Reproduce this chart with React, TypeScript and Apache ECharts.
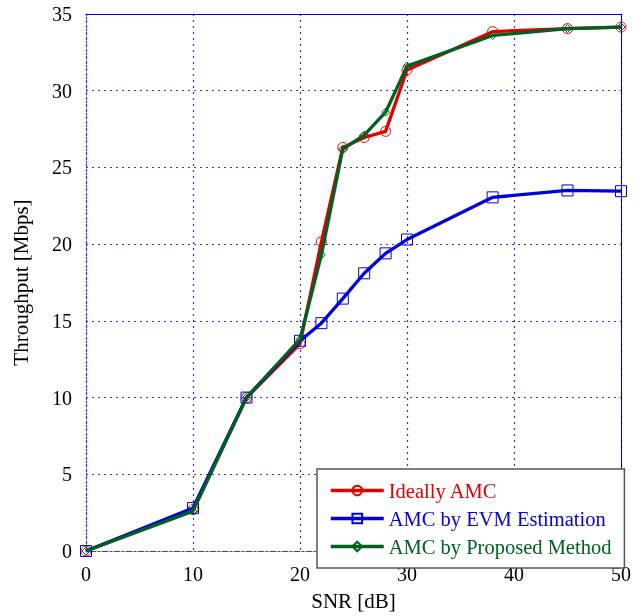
import React, { useEffect, useRef } from "react";
import * as echarts from "echarts";

const snr = [0, 10, 15, 20, 22, 24, 26, 28, 30, 38, 45, 50];
const ideal = [0, 2.7, 10.0, 13.5, 20.15, 26.3, 26.95, 27.35, 31.35, 33.85, 34.05, 34.15];
const evm = [0, 2.8, 10.0, 13.7, 14.85, 16.45, 18.1, 19.4, 20.3, 23.05, 23.5, 23.45];
const proposed = [0, 2.6, 10.0, 13.8, 19.3, 26.2, 27.1, 28.6, 31.6, 33.6, 34.05, 34.15];
const xTicks = [0, 10, 20, 30, 40, 50];
const names = ["Ideally AMC", "AMC by EVM Estimation", "AMC by Proposed Method"];
const colors = ["#e00000", "#0000e0", "#006020"];

const FONT = "'Liberation Serif', 'Times New Roman', serif";

export default function App() {
  const ref = useRef<HTMLDivElement>(null);
  useEffect(() => {
    if (!ref.current) return;
    const chart = echarts.init(ref.current, null, { renderer: "svg" });
    const pair = (ys: number[]) => snr.map((x, i) => [x, ys[i]]);
    const mk = (i: number, ys: number[], symbol: string, size: number) => ({
      name: names[i],
      type: "line",
      data: pair(ys),
      symbol,
      symbolSize: size,
      showSymbol: true,
      lineStyle: { color: colors[i], width: 3.3 },
      itemStyle: { color: "rgba(255,255,255,0)", borderColor: colors[i], borderWidth: 1 },
      z: 3 + i,
    });
    chart.setOption({
      animation: false,
      textStyle: { fontFamily: FONT },
      grid: { left: 86, right: 11, top: 14, bottom: 64 },
      xAxis: [
        {
          type: "value",
          min: 0,
          max: 50,
          interval: 10,
          name: "SNR [dB]",
          nameLocation: "middle",
          nameGap: 39,
          nameTextStyle: { fontFamily: FONT, fontSize: 21, color: "#000" },
          axisLine: { show: true, lineStyle: { color: "#4040e0", type: [2, 2], width: 1.2 } },
          axisTick: { show: false },
          axisLabel: {
            fontFamily: FONT,
            fontSize: 20,
            color: "#000",
            margin: 13,
            formatter: (v: number) => (xTicks.includes(v) ? String(v) : ""),
          },
          splitLine: { show: true, lineStyle: { color: "#3030e8", type: [2, 4], width: 1.2 } },
        },
        {
          type: "value",
          min: 0,
          max: 50,
          position: "top",
          axisLine: { show: true, onZero: false, lineStyle: { color: "#0000d0", width: 1 } },
          axisTick: { show: false },
          axisLabel: { show: false },
          splitLine: { show: false },
        },
      ],
      yAxis: [
        {
          type: "value",
          min: 0,
          max: 35,
          interval: 5,
          name: "Throughput [Mbps]",
          nameLocation: "middle",
          nameGap: 55,
          nameTextStyle: { fontFamily: FONT, fontSize: 21, color: "#000" },
          axisLine: { show: true, lineStyle: { color: "#4040e0", type: [2, 2], width: 1.2 } },
          axisTick: { show: false },
          axisLabel: { fontFamily: FONT, fontSize: 20, color: "#000", margin: 14 },
          splitLine: { show: true, lineStyle: { color: "#3030e8", type: [2, 4], width: 1.2 } },
        },
        {
          type: "value",
          min: 0,
          max: 35,
          position: "right",
          axisLine: { show: true, onZero: false, lineStyle: { color: "#0000d0", width: 1 } },
          axisTick: { show: false },
          axisLabel: { show: false },
          splitLine: { show: false },
        },
      ],
      legend: {
        orient: "vertical",
        left: 317,
        top: 469,
        padding: [11, 13, 11, 12],
        itemGap: 7,
        itemWidth: 53,
        itemHeight: 12,
        backgroundColor: "#fff",
        borderColor: "#555",
        borderWidth: 1.5,
        borderRadius: 0,
        z: 10,
        data: names.map((n, i) => ({
          name: n,
          lineStyle: { color: colors[i], width: 3.5 },
          textStyle: { color: colors[i], fontFamily: FONT, fontSize: 20.5, lineHeight: 16 },
        })),
      },
      series: [
        mk(0, ideal, "circle", 10),
        mk(1, evm, "rect", 11),
        mk(2, proposed, "diamond", 8),
      ],
    });
    return () => chart.dispose();
  }, []);
  return <div ref={ref} style={{ width: 634, height: 616, position: "fixed", left: 0, top: 0 }} />;
}
